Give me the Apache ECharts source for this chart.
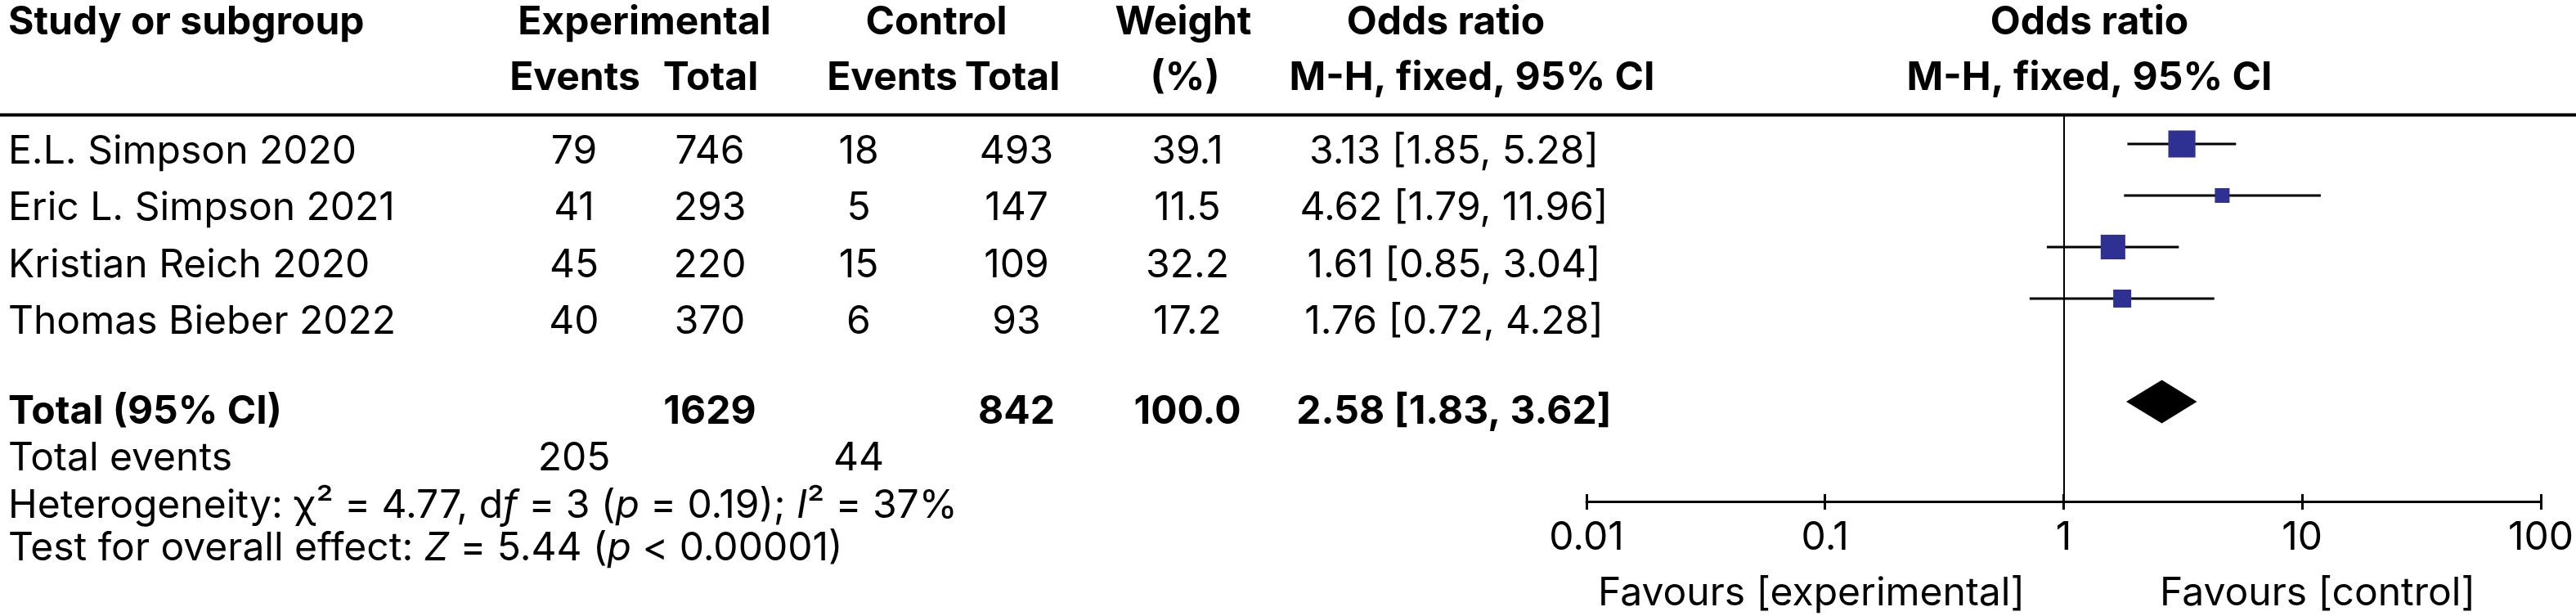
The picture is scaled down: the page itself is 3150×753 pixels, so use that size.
<!DOCTYPE html>
<html>
<head>
<meta charset="utf-8">
<script src="https://cdn.jsdelivr.net/npm/echarts@6/dist/echarts.min.js"></script>
<style>
html,body{margin:0;padding:0;background:#fff;}
#chart{width:3150px;height:753px;}
</style>
</head>
<body>
<div id="chart"></div>
<script>
// ---- data ----
const studies = ['E.L. Simpson 2020', 'Eric L. Simpson 2021', 'Kristian Reich 2020', 'Thomas Bieber 2022'];
const expEvents = [79, 41, 45, 40];
const expTotal = [746, 293, 220, 370];
const ctrlEvents = [18, 5, 15, 6];
const ctrlTotal = [493, 147, 109, 93];
const weights = [39.1, 11.5, 32.2, 17.2];
const oddsRatio = [3.13, 4.62, 1.61, 1.76];
const ciLow = [1.85, 1.79, 0.85, 0.72];
const ciHigh = [5.28, 11.96, 3.04, 4.28];
const totalExpEvents = 205;
const totalCtrlEvents = 44;
const totalExp = 1629;
const totalCtrl = 842;
const totalWeight = 100.0;
const totalOR = 2.58;
const totalLow = 1.83;
const totalHigh = 3.62;
const heterogeneity = { chi2: 4.77, df: 3, p: 0.19, i2: 37 };
const overallEffect = { z: 5.44, p: '0.00001' };
const axisTicks = [0.01, 0.1, 1, 10, 100];
const favourLabels = ['Favours [experimental]', 'Favours [control]'];

// ---- layout / style ----
const FS = 48;
const FF = "Inter, 'Open Sans', sans-serif";
// distance from the canvas 'middle' baseline to the alphabetic baseline
const MID = (function () {
  const c = document.createElement('canvas').getContext('2d');
  c.font = FS + 'px ' + FF;
  c.textBaseline = 'alphabetic';
  const a1 = c.measureText('H').actualBoundingBoxAscent;
  c.textBaseline = 'middle';
  const a2 = c.measureText('H').actualBoundingBoxAscent;
  const d = a1 - a2;
  return (isFinite(d) && d > 5 && d < 30) ? d : 0.365 * FS;
})();
const col = { name: 10, expEv: 702, expTot: 868, ctrlEv: 1050, ctrlTot: 1243, weight: 1452, or: 1778 };
const rowBase0 = 200, rowStep = 69.3;
const totalRow = 5;
const axisY = 613, tickLabelBase = 672;

function T(text, x, base, align, bold, rich) {
  const st = { text: text, fontFamily: FF, fontSize: FS, fontWeight: bold ? 'bold' : 'normal',
    fill: '#000', align: align, verticalAlign: 'middle', lineHeight: FS };
  if (rich) st.rich = rich;
  return { type: 'text', x: x, y: base - MID, silent: true, style: st };
}
const fmtCI = (o, l, h) => o.toFixed(2) + ' [' + l.toFixed(2) + ', ' + h.toFixed(2) + ']';

const g = [];
// header
g.push(T('Study or subgroup', col.name, 42, 'left', true));
g.push(T('Experimental', 788, 42, 'center', true));
g.push(T('Control', 1145, 42, 'center', true));
g.push(T('Weight', 1447, 42, 'center', true));
g.push(T('Odds ratio', 1768, 42, 'center', true));
g.push(T('Odds ratio', 2555, 42, 'center', true));
g.push(T('Events', 703, 110, 'center', true));
g.push(T('Total', 869, 110, 'center', true));
g.push(T('Events', 1091, 110, 'center', true));
g.push(T('Total', 1238, 110, 'center', true));
g.push(T('(%)', 1449, 110, 'center', true));
g.push(T('M-H, fixed, 95% CI', 1800, 110, 'center', true));
g.push(T('M-H, fixed, 95% CI', 2555, 110, 'center', true));
g.push({ type: 'line', silent: true, shape: { x1: 0, y1: 140.5, x2: 3150, y2: 140.5 }, style: { stroke: '#000', lineWidth: 4 } });

// study rows
studies.forEach((s, i) => {
  const b = rowBase0 + i * rowStep;
  g.push(T(s, col.name, b, 'left', false));
  g.push(T(String(expEvents[i]), col.expEv, b, 'center', false));
  g.push(T(String(expTotal[i]), col.expTot, b, 'center', false));
  g.push(T(String(ctrlEvents[i]), col.ctrlEv, b, 'center', false));
  g.push(T(String(ctrlTotal[i]), col.ctrlTot, b, 'center', false));
  g.push(T(weights[i].toFixed(1), col.weight, b, 'center', false));
  g.push(T(fmtCI(oddsRatio[i], ciLow[i], ciHigh[i]), col.or, b, 'center', false));
});

// totals
g.push(T('Total (95% CI)', col.name, 518, 'left', true));
g.push(T(String(totalExp), col.expTot, 518, 'center', true));
g.push(T(String(totalCtrl), col.ctrlTot, 518, 'center', true));
g.push(T(totalWeight.toFixed(1), col.weight, 518, 'center', true));
g.push(T(fmtCI(totalOR, totalLow, totalHigh), col.or, 518, 'center', true));
g.push(T('Total events', col.name, 575, 'left', false));
g.push(T(String(totalExpEvents), col.expEv, 575, 'center', false));
g.push(T(String(totalCtrlEvents), col.ctrlEv, 575, 'center', false));

const rich = {
  n: { fontFamily: FF, fontSize: FS, fill: '#000', lineHeight: FS },
  i: { fontFamily: FF, fontSize: FS, fontStyle: 'italic', fill: '#000', lineHeight: FS }
};
g.push(T('{n|Heterogeneity: χ² = ' + heterogeneity.chi2.toFixed(2) + ', d}{i|f}{n| = ' + heterogeneity.df +
  ' (}{i|p}{n| = ' + heterogeneity.p.toFixed(2) + '); }{i|I}{n|² = ' + heterogeneity.i2 + '%}', col.name, 633, 'left', false, rich));
g.push(T('{n|Test for overall effect: }{i|Z}{n| = ' + overallEffect.z.toFixed(2) + ' (}{i|p}{n| < ' + overallEffect.p + ')}',
  col.name, 685, 'left', false, rich));

// favours labels
g.push(T(favourLabels[0], 2215, 740, 'center', false));
g.push(T(favourLabels[1], 2834, 740, 'center', false));

const studyData = studies.map((s, i) => [oddsRatio[i], ciLow[i], ciHigh[i], weights[i], i]);
const totalData = [[totalOR, totalLow, totalHigh, totalRow]];
const labelMargin = Math.max(2, tickLabelBase - MID - FS / 2 - axisY);

const chart = echarts.init(document.getElementById('chart'));
chart.setOption({
  animation: false,
  backgroundColor: '#fff',
  grid: { left: 1940, right: 41, top: 140, bottom: 753 - axisY },
  xAxis: [{
    type: 'log', logBase: 10, min: axisTicks[0], max: axisTicks[axisTicks.length - 1], position: 'bottom',
    axisLine: { show: true, onZero: false, lineStyle: { color: '#000', width: 3 } },
    axisTick: { show: true, inside: false, length: 10, lineStyle: { color: '#000', width: 3 } },
    axisLabel: { show: true, margin: labelMargin, fontSize: FS, lineHeight: FS, fontFamily: FF, color: '#000',
      formatter: v => String(+Number(v).toPrecision(6)) },
    splitLine: { show: false }, minorTick: { show: false }
  }, {
    type: 'log', logBase: 10, min: axisTicks[0], max: axisTicks[axisTicks.length - 1], position: 'bottom',
    axisLine: { show: false, onZero: false },
    axisTick: { show: true, inside: true, length: 9, lineStyle: { color: '#000', width: 3 } },
    axisLabel: { show: false }, splitLine: { show: false }, minorTick: { show: false }
  }],
  yAxis: { type: 'value', inverse: true, min: -0.571, max: 6.937, show: false, splitLine: { show: false } },
  series: [{
    type: 'custom',
    xAxisIndex: 0,
    data: studyData,
    encode: { x: [0, 1, 2], y: 4 },
    renderItem: function (params, api) {
      const row = api.value(4);
      const c = api.coord([api.value(0), row]);
      const lo = api.coord([api.value(1), row]);
      const hi = api.coord([api.value(2), row]);
      const s = Math.sqrt(api.value(3)) * 5.3;
      return {
        type: 'group', children: [
          { type: 'line', shape: { x1: lo[0], y1: lo[1], x2: hi[0], y2: hi[1] }, style: { stroke: '#000', lineWidth: 3 } },
          { type: 'rect', shape: { x: c[0] - s / 2, y: c[1] - s / 2, width: s, height: s }, style: { fill: '#2e3192' } }
        ]
      };
    },
    markLine: {
      silent: true, symbol: 'none', label: { show: false },
      lineStyle: { color: '#000', width: 2, type: 'solid' },
      data: [{ xAxis: 1 }]
    },
    z: 3
  }, {
    type: 'custom',
    xAxisIndex: 0,
    data: totalData,
    encode: { x: [0, 1, 2], y: 3 },
    renderItem: function (params, api) {
      const row = api.value(3);
      const c = api.coord([api.value(0), row]);
      const lo = api.coord([api.value(1), row]);
      const hi = api.coord([api.value(2), row]);
      const h = 26.5;
      return {
        type: 'polygon',
        shape: { points: [[lo[0], c[1]], [c[0], c[1] - h], [hi[0], c[1]], [c[0], c[1] + h]] },
        style: { fill: '#000' }
      };
    },
    z: 3
  }],
  graphic: g
});
</script>
</body>
</html>
